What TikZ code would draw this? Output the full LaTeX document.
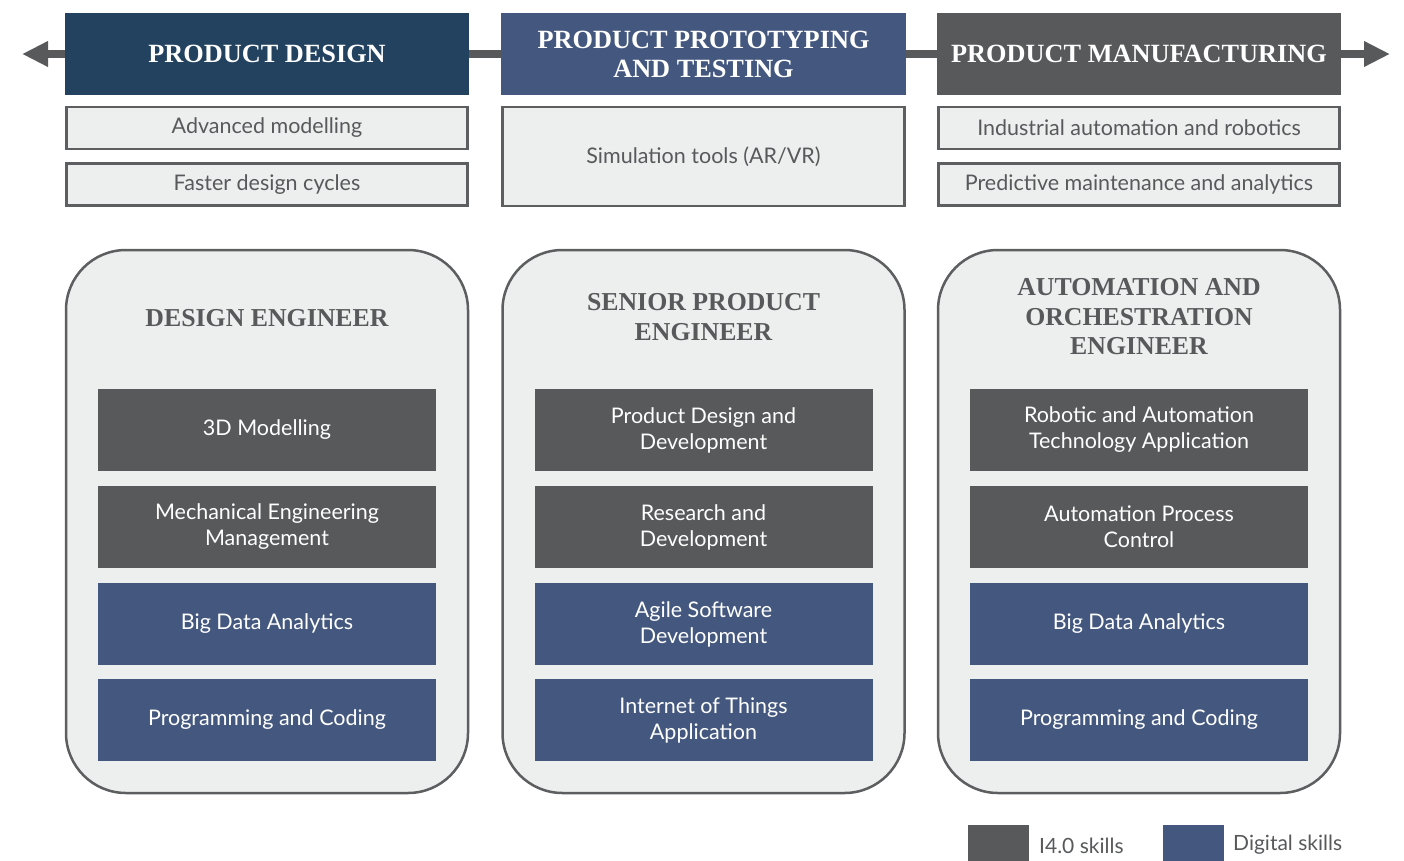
\documentclass[tikz,border=0pt]{standalone}
\usepackage{fontspec}
\setmainfont{Liberation Serif}
\newfontfamily\skillfont{Lato}
\usetikzlibrary{arrows.meta}
\definecolor{pdblue}{HTML}{22425F}
\definecolor{ppblue}{HTML}{44587F}
\definecolor{pmgrey}{HTML}{58595B}
\definecolor{boxfill}{HTML}{EDEEEE}
\definecolor{boxline}{HTML}{5D5E60}
\definecolor{txtgrey}{HTML}{58595B}
\tikzset{
  header/.style={minimum width=404pt, minimum height=82pt, inner sep=0pt, text=white, align=center,
    font=\fontsize{26.3}{29}\selectfont\bfseries},
  featbox/.style={draw=boxline, line width=2.5pt, fill=boxfill, minimum width=401pt, inner sep=0pt,
    text=txtgrey, font=\skillfont\fontsize{21.5}{26}\selectfont},
  rolebox/.style={draw=boxline, line width=2.5pt, fill=boxfill, minimum width=402pt, minimum height=543pt,
    rounded corners=60pt, inner sep=0pt},
  roletitle/.style={text=txtgrey, align=center, font=\fontsize{25.8}{29.5}\selectfont\bfseries},
  skillbox/.style={minimum width=338pt, minimum height=82pt, inner sep=0pt, text=white, align=center,
    font=\skillfont\fontsize{21.5}{26}\selectfont},
  iskill/.style={skillbox, fill=pmgrey},
  dskill/.style={skillbox, fill=ppblue},
  legsq/.style={minimum width=61pt, minimum height=40pt, inner sep=0pt, anchor=north west},
  legtxt/.style={text=txtgrey, anchor=base west, inner sep=0pt, font=\skillfont\fontsize{21}{24}\selectfont},
  flow/.style={draw=pmgrey, line width=8pt, {Triangle[length=26pt,width=24pt]}-{Triangle[length=26pt,width=24pt]}}
}
\begin{document}
\begin{tikzpicture}[x=1pt,y=-1pt]
\useasboundingbox (0,0) rectangle (1404,861);
\coordinate (L) at (22,54);
\coordinate (R) at (1390,54);
\draw[flow] (L) -- (R);
% headers
\node[header, fill=pdblue] (h1) at (267,54) {PRODUCT DESIGN};
\node[header, fill=ppblue, minimum width=405pt] (h2) at (703.5,54) {PRODUCT PROTOTYPING\\AND TESTING};
\node[header, fill=pmgrey] (h3) at (1139,54) {PRODUCT MANUFACTURING};
% feature boxes
\node[featbox, minimum height=42pt] (f11) at (267,128) {Advanced modelling};
\node[featbox, minimum height=42pt] (f12) at (267,184.5) {Faster design cycles};
\node[featbox, minimum height=99pt, minimum width=402pt] (f21) at (703.5,156.5) {Simulation tools (AR/VR)};
\node[featbox, minimum height=42pt] (f31) at (1139,128) {Industrial automation and robotics};
\node[featbox, minimum height=42pt] (f32) at (1139,184.5) {Predictive maintenance and analytics};
% role boxes
\node[rolebox] (r1) at (267,521.5) {};
\node[rolebox] (r2) at (703.5,521.5) {};
\node[rolebox] (r3) at (1139,521.5) {};
\node[roletitle] (t1) at (267,318) {DESIGN ENGINEER};
\node[roletitle] (t2) at (703.5,317) {SENIOR PRODUCT\\ENGINEER};
\node[roletitle] (t3) at (1139,317) {AUTOMATION AND\\ORCHESTRATION\\ENGINEER};
% skills column 1
\node[iskill] (s11) at (267,430) {3D Modelling};
\node[iskill] (s12) at (267,527) {Mechanical Engineering\\Management};
\node[dskill] (s13) at (267,624) {Big Data Analytics};
\node[dskill] (s14) at (267,720) {Programming and Coding};
% skills column 2
\node[iskill] (s21) at (703.5,430) {Product Design and\\Development};
\node[iskill] (s22) at (703.5,527) {Research and\\Development};
\node[dskill] (s23) at (703.5,624) {Agile Software\\Development};
\node[dskill] (s24) at (703.5,720) {Internet of Things\\Application};
% skills column 3
\node[iskill] (s31) at (1139,430) {Robotic and Automation\\Technology Application};
\node[iskill] (s32) at (1139,527) {Automation Process\\Control};
\node[dskill] (s33) at (1139,624) {Big Data Analytics};
\node[dskill] (s34) at (1139,720) {Programming and Coding};
% legend
\node[legsq, fill=pmgrey] (lg1) at (968,825) {};
\node[legtxt] (lt1) at (1039,853) {I4.0 skills};
\node[legsq, fill=ppblue] (lg2) at (1163,825) {};
\node[legtxt] (lt2) at (1233,850) {Digital skills};
\end{tikzpicture}
\end{document}
